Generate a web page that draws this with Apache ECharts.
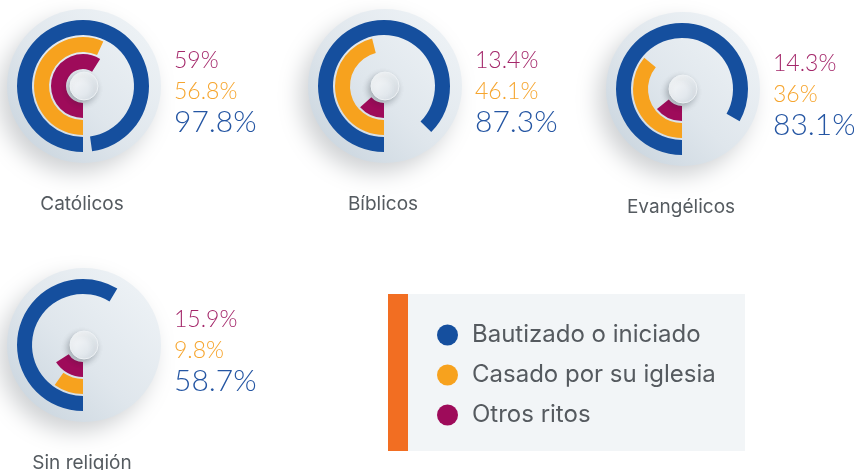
<!DOCTYPE html>
<html>
<head>
<meta charset="utf-8">
<style>
  html, body { margin: 0; padding: 0; background: #ffffff; }
  #chart { width: 854px; height: 470px; }
</style>
<script src="https://cdn.jsdelivr.net/npm/echarts@6/dist/echarts.min.js"></script>
</head>
<body>
<div id="chart"></div>
<script>
// Religious groups and the share of each that went through each rite (%)
const groups = ['Católicos', 'Bíblicos', 'Evangélicos', 'Sin religión'];
const bautizado = [97.8, 87.3, 83.1, 58.7];
const casado = [56.8, 46.1, 36, 9.8];
const otros = [59, 13.4, 14.3, 15.9];

// Rites, from the inner ring to the outer ring
const rites = ['Otros ritos', 'Casado por su iglesia', 'Bautizado o iniciado'];
const legendOrder = ['Bautizado o iniciado', 'Casado por su iglesia', 'Otros ritos'];

// Layout
const centers = [[83, 86], [384, 86], [682, 89], [83, 345]];
const colors = { 'Otros ritos': '#9e0b5a', 'Casado por su iglesia': '#f7a21e', 'Bautizado o iniciado': '#154f9e' };
const textColors = { 'Otros ritos': '#a4276a', 'Casado por su iglesia': '#f6a52e', 'Bautizado o iniciado': '#2556a3' };
const FONT = 'Inter, Lato, sans-serif';
const NUM_FONT = 'Lato, Inter, sans-serif';

const valuesByRite = {
  'Otros ritos': otros,
  'Casado por su iglesia': casado,
  'Bautizado o iniciado': bautizado
};

const polar = [], angleAxis = [], radiusAxis = [], series = [], graphic = [];

// Legend panel with its orange side bar
graphic.push({ type: 'rect', z: 0, shape: { x: 388, y: 294, width: 357, height: 157 }, style: { fill: '#f2f5f7' } });
graphic.push({ type: 'rect', z: 1, shape: { x: 388, y: 294, width: 20, height: 157 }, style: { fill: '#f26e22' } });

groups.forEach((g, gi) => {
  const [cx, cy] = centers[gi];
  polar.push({ center: [cx, cy], radius: [16, 67] });
  angleAxis.push({
    polarIndex: gi, type: 'value', min: 0, max: 100, startAngle: 270, clockwise: true,
    axisLine: { show: false }, axisTick: { show: false }, axisLabel: { show: false }, splitLine: { show: false }
  });
  radiusAxis.push({
    polarIndex: gi, type: 'category', data: rites,
    axisLine: { show: false }, axisTick: { show: false }, axisLabel: { show: false }, splitLine: { show: false }
  });

  rites.forEach((r, ri) => {
    series.push({
      type: 'bar', name: r, coordinateSystem: 'polar', polarIndex: gi, stack: 'grp' + gi,
      barWidth: 15, silent: true, z: 3,
      itemStyle: { color: colors[r] },
      data: rites.map((_, k) => (k === ri ? valuesByRite[r][gi] : '-'))
    });
  });

  // Disc behind the rings
  graphic.push({
    type: 'circle', z: 0, shape: { cx: cx + 1, cy: cy, r: 77 },
    style: {
      fill: { type: 'linear', x: 1, y: 0, x2: 0, y2: 1, colorStops: [
        { offset: 0, color: '#f1f5f8' }, { offset: 0.55, color: '#dfe6ec' }, { offset: 1, color: '#c6d2dc' }] },
      shadowColor: 'rgba(40,50,60,0.22)', shadowBlur: 22, shadowOffsetX: -8, shadowOffsetY: 10
    }
  });

  // Centre knob
  graphic.push({
    type: 'circle', z: 10, shape: { cx: cx + 1, cy: cy, r: 14 },
    style: {
      fill: { type: 'linear', x: 0, y: 0, x2: 1, y2: 1, colorStops: [
        { offset: 0, color: '#fbfcfd' }, { offset: 1, color: '#d6dee5' }] },
      stroke: '#eef2f5', lineWidth: 1,
      shadowColor: 'rgba(30,40,50,0.30)', shadowBlur: 6, shadowOffsetX: -2, shadowOffsetY: 3
    }
  });

  // Value labels beside each disc
  const labelRows = [['Otros ritos', -25, 23], ['Casado por su iglesia', 6, 23], ['Bautizado o iniciado', 36, 30]];
  labelRows.forEach(([r, dy, fs]) => {
    graphic.push({
      type: 'text', z: 12,
      style: {
        text: valuesByRite[r][gi] + '%', x: cx + 91, y: cy + dy,
        fill: textColors[r], font: '300 ' + fs + 'px ' + NUM_FONT, verticalAlign: 'middle', align: 'left'
      }
    });
  });

  // Group name under each disc
  graphic.push({
    type: 'text', z: 12,
    style: {
      text: g, x: cx - 1, y: cy + 118, fill: '#555b60',
      font: '19px ' + FONT, verticalAlign: 'middle', align: 'center'
    }
  });
});

const chart = echarts.init(document.getElementById('chart'), null, { renderer: 'canvas' });
chart.setOption({
  animation: false,
  backgroundColor: '#ffffff',
  polar, angleAxis, radiusAxis, series, graphic,
  legend: {
    data: legendOrder, orient: 'vertical', left: 437, top: 323, padding: 0,
    itemWidth: 21, itemHeight: 21, itemGap: 16, icon: 'circle', selectedMode: false,
    textStyle: { fontSize: 24, lineHeight: 21, color: '#555a5f', fontFamily: FONT, padding: [0, 0, 0, 9] }
  }
});
</script>
</body>
</html>
